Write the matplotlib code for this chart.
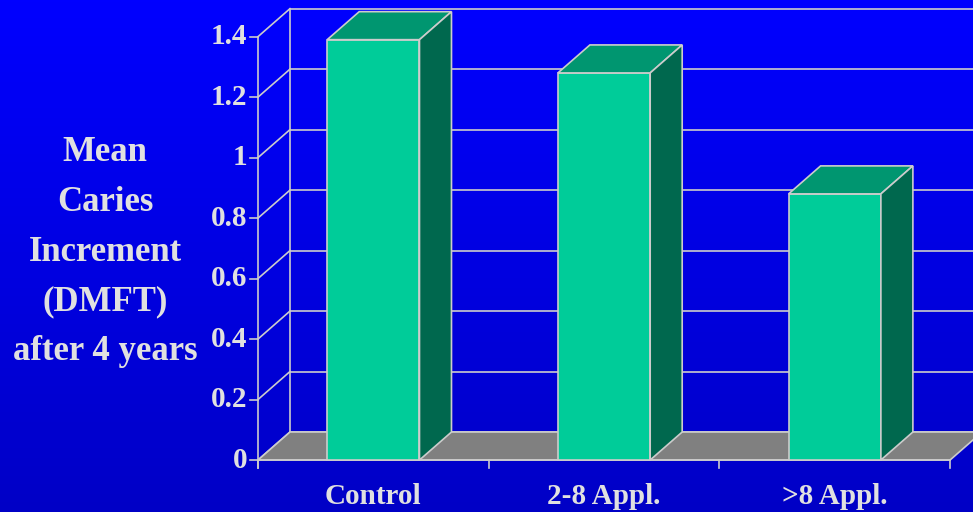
import numpy as np
import matplotlib
matplotlib.use("Agg")
import matplotlib.pyplot as plt
from matplotlib.patches import Polygon

categories = ["Control", "2-8 Appl.", ">8 Appl."]
values = [1.39, 1.28, 0.88]
y_ticks = [0, 0.2, 0.4, 0.6, 0.8, 1.0, 1.2, 1.4]
y_tick_labels = ["0", "0.2", "0.4", "0.6", "0.8", "1", "1.2", "1.4"]
ylabel_lines = ["Mean", "Caries", "Increment", "(DMFT)", "after 4 years"]

W, H = 973, 512
fig = plt.figure(figsize=(W / 100, H / 100), dpi=100)
ax = fig.add_axes([0, 0, 1, 1])
ax.axis("off")

# pixel geometry -> data scales
px_per_cat = 230.7
px_per_val = 302.4
x0_px, y0_px = 258, 460
xlim = (-0.5 - x0_px / px_per_cat, -0.5 + (W - x0_px) / px_per_cat)
ylim = (-(H - y0_px) / px_per_val, y0_px / px_per_val)
ax.set_xlim(*xlim)
ax.set_ylim(*ylim)

DX = 32 / px_per_cat
DY = 28 / px_per_val
BW = 0.4
txt_col = "#E0E0E0"
line_col = "#CCCCCC"
lw = 1.2
font = "Liberation Serif"

# background gradient
grad = np.linspace(0, 1, 256).reshape(-1, 1)
top = np.array([0, 0, 255]) / 255
bot = np.array([0, 0, 198]) / 255
img = top[None, None, :] * (1 - grad[:, :, None]) + bot[None, None, :] * grad[:, :, None]
ax.imshow(img, extent=[xlim[0], xlim[1], ylim[0], ylim[1]], aspect="auto", zorder=0, origin="upper")

xl, xr = -0.5, len(categories) - 0.5
ymax = y_ticks[-1]

# back wall gridlines and side wall diagonals
for t in y_ticks:
    ax.plot([xl + DX, xr + DX + 1], [t + DY, t + DY], color=line_col, lw=lw, zorder=1)
    ax.plot([xl, xl + DX], [t, t + DY], color=line_col, lw=lw, zorder=1)
ax.plot([xl + DX, xl + DX], [DY, ymax + DY], color=line_col, lw=lw, zorder=1)

# floor
floor = Polygon([(xl, 0), (xr, 0), (xr + DX, DY), (xl + DX, DY)], closed=True,
                facecolor="#808080", edgecolor=line_col, lw=lw, zorder=2)
ax.add_patch(floor)

# front axis
ax.plot([xl, xl], [ymax, -8 / px_per_val], color=line_col, lw=lw, zorder=3)
ax.plot([xl, xr], [0, 0], color=line_col, lw=lw, zorder=3)
for t, lab in zip(y_ticks, y_tick_labels):
    ax.plot([xl - 8 / px_per_cat, xl], [t, t], color=line_col, lw=lw, zorder=3)
    ax.text(xl - 11 / px_per_cat, t, lab, ha="right", va="center", fontsize=21,
            fontweight="bold", family=font, color=txt_col, zorder=5)
for i in range(len(categories) + 1):
    xb = xl + i
    ax.plot([xb, xb], [0, -8 / px_per_val], color=line_col, lw=lw, zorder=3)

# bars
for i, (c, v) in enumerate(zip(categories, values)):
    l, r = i - BW / 2, i + BW / 2
    front = Polygon([(l, 0), (r, 0), (r, v), (l, v)], closed=True,
                    facecolor="#00CC99", edgecolor=line_col, lw=lw, zorder=4)
    topf = Polygon([(l, v), (r, v), (r + DX, v + DY), (l + DX, v + DY)], closed=True,
                   facecolor="#009670", edgecolor=line_col, lw=lw, zorder=4)
    side = Polygon([(r, 0), (r + DX, DY), (r + DX, v + DY), (r, v)], closed=True,
                   facecolor="#00684E", edgecolor=line_col, lw=lw, zorder=4)
    for p in (front, topf, side):
        ax.add_patch(p)
    ax.text(i, -37 / px_per_val, c, ha="center", va="center", fontsize=21,
            fontweight="bold", family=font, color=txt_col, zorder=5)

# y label
label_x = xl - (258 - 105) / px_per_cat
for k, line in enumerate(ylabel_lines):
    ypx = 152 + k * 50
    ax.text(label_x, (y0_px - ypx) / px_per_val, line, ha="center", va="center",
            fontsize=25, fontweight="bold", family=font, color=txt_col, zorder=5)

fig.savefig("out.png", dpi=100)
